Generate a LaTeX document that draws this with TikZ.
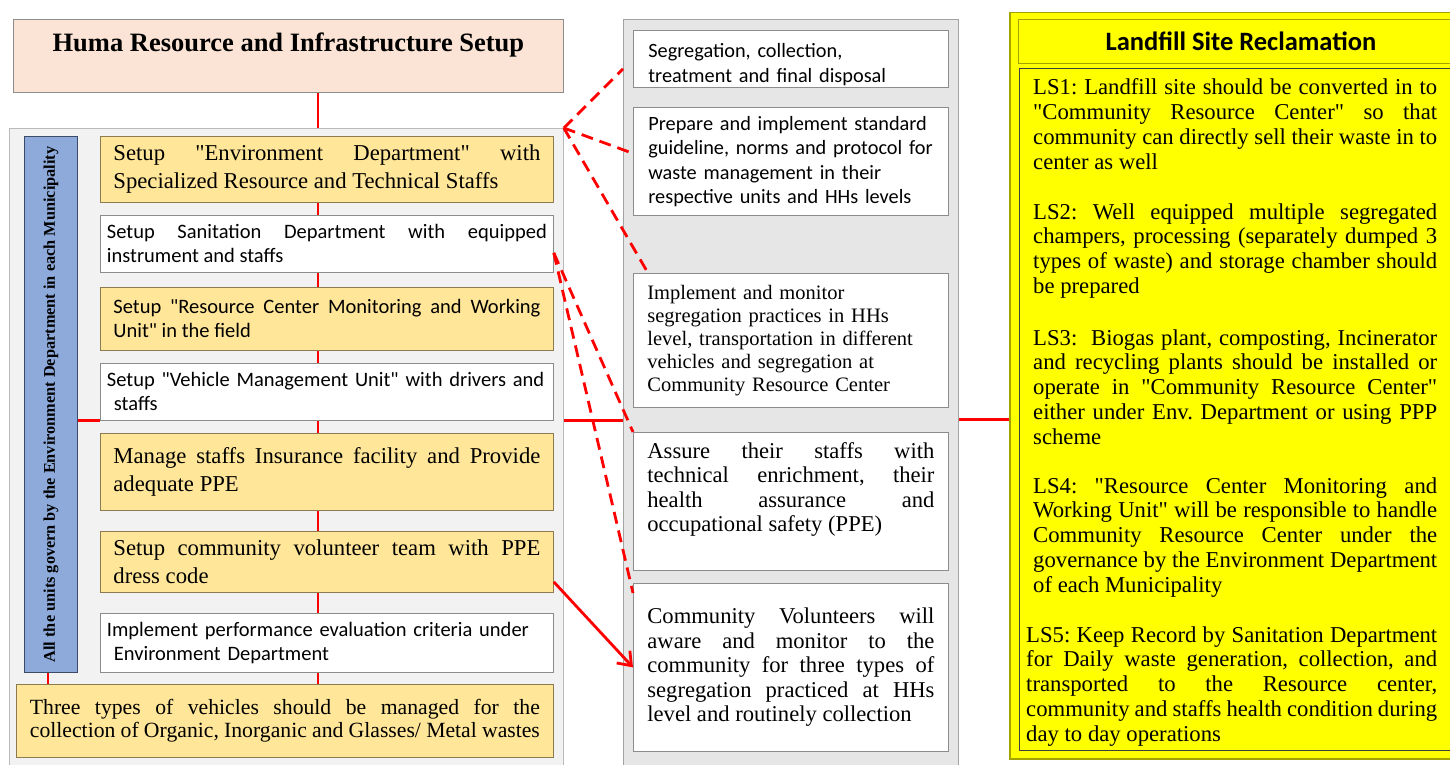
\documentclass[tikz,border=0pt]{standalone}
\usepackage{fontspec}
\setmainfont{Liberation Serif}
\newfontfamily\calfont{Carlito}
\usepackage{graphicx}
\usepackage{tikz}
\usetikzlibrary{positioning, arrows.meta, calc}
\definecolor{hrpink}{HTML}{FBE4D5}
\definecolor{hryellow}{HTML}{FFE699}
\definecolor{hrblue}{HTML}{8EAADB}
\definecolor{hrbluedark}{HTML}{3B4A66}
\definecolor{hrbrown}{HTML}{8C7B50}
\definecolor{hrred}{HTML}{FF0000}
\definecolor{hrgray}{HTML}{F2F2F2}
\definecolor{hrgrayline}{HTML}{8C8C8C}
\definecolor{midgray}{HTML}{E6E6E6}
\definecolor{lsyellow}{HTML}{FFFF00}
\definecolor{lsolive}{HTML}{A3A300}
\hyphenpenalty=10000
\exhyphenpenalty=10000
\tolerance=10000
\frenchspacing
\newcommand{\dq}{\textquotedbl}
\tikzset{
    box/.style={rectangle, draw, anchor=north west, inner sep=0pt, line width=0.8pt},
    ybox/.style={box, fill=hryellow, draw=hrbrown, align=justify, minimum width=453pt, text width=427pt,
        font=\fontsize{22.7}{28}\selectfont},
    ysbox/.style={ybox, font=\calfont\fontsize{20.5}{24}\selectfont},
    wbox/.style={box, fill=white, draw=hrgrayline, align=justify, minimum width=453pt, text width=440pt,
        font=\calfont\fontsize{20.5}{24}\selectfont},
    midbox/.style={box, fill=white, draw=hrgrayline, align=justify, minimum width=315pt, text width=287pt,
        font=\fontsize{22.6}{24.5}\selectfont},
    midsans/.style={midbox, align=left, text width=301pt, execute at begin node={\leftskip=8pt},
        font=\calfont\fontsize{20.3}{24.5}\selectfont},
    lstext/.style={anchor=base west, inner sep=0pt, text width=404pt, align=justify,
        font=\fontsize{22.7}{24.8}\selectfont},
    link/.style={draw=hrred, line width=2.8pt},
    dlink/.style={link, dash pattern=on 12pt off 7pt}
}

\begin{document}
\begin{tikzpicture}[x=1pt, y=-1pt]
    \useasboundingbox (0,0) rectangle (1450,765);

    % Left column
    \node[box, fill=hrpink, draw=hrgrayline, minimum width=550pt, minimum height=73pt, text depth=27pt,
        font=\bfseries\fontsize{26.5}{30}\selectfont] (title) at (13,19) {Huma Resource and Infrastructure Setup};
    \node[box, fill=hrgray, draw=hrgrayline!60, minimum width=554pt, minimum height=640pt] (leftbg) at (9,128) {};
    \node[box, fill=hrblue, draw=hrbluedark, minimum width=53pt, minimum height=536pt,
        font=\bfseries\fontsize{16.3}{18}\selectfont] (govbar) at (24,136)
        {\rotatebox{90}{All the units govern by the Environment Department in each Municipality}};
    \node[ybox, minimum height=66pt] (env) at (100,136) {Setup \dq Environment Department\dq\ with\linebreak Specialized Resource and Technical Staffs};
    \node[wbox, minimum height=57pt] (sanit) at (100,215) {Setup Sanitation Department with equipped\linebreak instrument and staffs};
    \node[ysbox, minimum height=63pt] (rcunit) at (100,287) {Setup "Resource Center Monitoring and Working\linebreak Unit" in the field};
    \node[wbox, align=left, minimum height=57pt] (vehunit) at (100,363) {Setup "Vehicle Management Unit" with drivers and\\\hspace*{7pt}staffs};
    \node[ybox, minimum height=77pt] (insur) at (100,433) {Manage staffs Insurance facility and Provide\linebreak adequate PPE};
    \node[ybox, minimum height=61pt] (volun) at (100,531) {Setup community volunteer team with PPE\linebreak dress code};
    \node[wbox, align=left, minimum height=59pt] (perf) at (100,613) {Implement performance evaluation criteria under\\\hspace*{7pt}Environment Department};
    \node[ybox, minimum width=537pt, minimum height=73pt, text width=510pt, font=\fontsize{21.7}{22.5}\selectfont] (vehtypes) at (16,684)
        {Three types of vehicles should be managed for the\linebreak collection of Organic, Inorganic and Glasses/ Metal wastes};

    % Middle column
    \node[box, fill=midgray, draw=hrgrayline!80, minimum width=335pt, minimum height=752pt] (midbg) at (623,19) {};
    \node[midsans, minimum height=57pt] (segcol) at (633,30) {\rule{0pt}{25pt}Segregation, collection,\\treatment and final disposal};
    \node[midsans, minimum height=108pt] (guide) at (633,107) {Prepare and implement standard\\guideline, norms and protocol for\\waste management in their\\respective units and HHs levels};
    \node[midbox, align=left, minimum height=134pt, font=\fontsize{20.5}{23}\selectfont] (monit) at (633,273)
        {Implement and monitor\\segregation practices in HHs\\level, transportation in different\\vehicles and segregation at\\Community Resource Center};
    \node[midbox, minimum height=138pt] (assure) at (633,432)
        {Assure their staffs with\linebreak technical enrichment, their\linebreak health assurance and\linebreak occupational safety (PPE)\par\vspace*{24pt}\hrule height 0pt};
    \node[midbox, minimum height=168pt] (commvol) at (633,583)
        {Community Volunteers will\linebreak aware and monitor to the\linebreak community for three types of\linebreak segregation practiced at HHs\linebreak level and routinely collection};

    % Right column
    \node[box, fill=lsyellow, draw=lsolive, line width=1.5pt, minimum width=450pt, minimum height=746pt] (rightbg) at (1009,12) {};
    \node[box, fill=lsyellow, draw=lsolive, minimum width=445pt, minimum height=44pt,
        font=\calfont\bfseries\fontsize{26.5}{30}\selectfont] (lstitle) at (1018,19) {Landfill Site Reclamation};
    \node[box, fill=lsyellow, draw=black!75, minimum width=445pt, minimum height=682pt] (lsbody) at (1019,68) {};
    \node[lstext] (ls1) at (1033,95) {LS1: Landfill site should be converted in to\linebreak \dq Community Resource Center\dq\ so that\linebreak community can directly sell their waste in to\linebreak center as well};
    \node[lstext] (ls2) at (1033,219) {LS2: Well equipped multiple segregated\linebreak champers, processing (separately dumped 3\linebreak types of waste) and storage chamber should\linebreak be prepared};
    \node[lstext] (ls3) at (1033,345) {LS3: \ Biogas plant, composting, Incinerator\linebreak and recycling plants should be installed or\linebreak operate in \dq Community Resource Center\dq\linebreak either under Env. Department or using PPP\linebreak scheme};
    \node[lstext] (ls4) at (1033,493) {LS4: \dq Resource Center Monitoring and\linebreak Working Unit\dq\ will be responsible to handle\linebreak Community Resource Center under the\linebreak governance by the Environment Department\linebreak of each Municipality};
    \node[lstext, text width=411pt] (ls5) at (1026,642) {LS5: Keep Record by Sanitation Department\linebreak for Daily waste generation, collection, and\linebreak transported to the Resource center,\linebreak community and staffs health condition during\linebreak day to day operations};

    % Connectors
    \coordinate (spine) at (318,0);
    \draw[link] (title.south -| spine) -- (leftbg.north -| spine);
    \foreach \a/\b in {env/sanit, sanit/rcunit, rcunit/vehunit, vehunit/insur, insur/volun, volun/perf, perf/vehtypes}
        \draw[link] (\a.south -| spine) -- (\b.north -| spine);
    \draw[link] ([xshift=-3pt]govbar.south) -- ([xshift=-3pt]govbar.south |- vehtypes.north);
    \draw[link] (govbar.east |- vehunit.south) -- (vehunit.south west);
    \draw[link] (leftbg.east |- vehunit.south) -- (midbg.west |- vehunit.south);
    \draw[link] ([yshift=1pt]midbg.east |- vehunit.south) -- ([yshift=1pt]rightbg.west |- vehunit.south);
    \draw[dlink] (leftbg.north east) -- ([yshift=-10pt]midbg.west |- segcol.center);
    \draw[dlink] (leftbg.north east) -- ([yshift=8pt]guide.west);
    \draw[dlink] (leftbg.north east) -- ([xshift=15pt]monit.north west);
    \draw[dlink] ([yshift=-9pt]sanit.east) -- (assure.north west);
    \draw[dlink] ([yshift=-9pt]sanit.east) -- ([yshift=-10pt]commvol.north west);
    \draw[link, -{Straight Barb[length=12pt, width=18pt]}] ([yshift=-20pt]volun.east) -- (commvol.west);
\end{tikzpicture}
\end{document}
